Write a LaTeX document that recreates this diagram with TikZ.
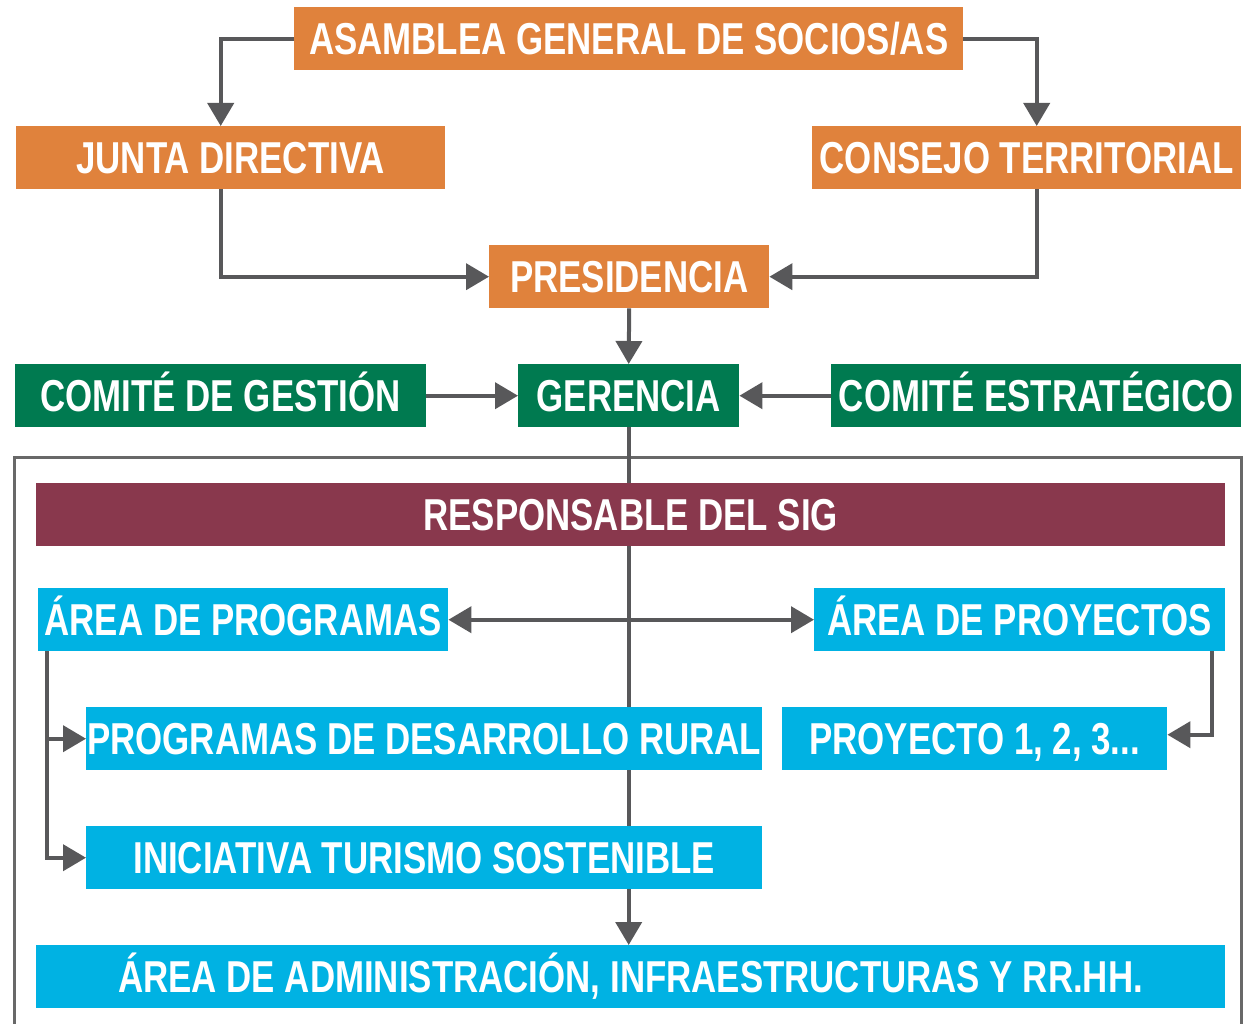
\documentclass[tikz,border=0pt]{standalone}
\usepackage{fontspec}
\setmainfont{Liberation Sans}[FakeStretch=0.78]
\usetikzlibrary{arrows.meta,positioning,backgrounds}

\definecolor{orgorange}{RGB}{224,130,60}
\definecolor{orggreen}{RGB}{0,122,80}
\definecolor{orgwine}{RGB}{137,56,77}
\definecolor{orgcyan}{RGB}{0,178,227}
\definecolor{orglink}{RGB}{88,88,90}
\definecolor{orgframe}{RGB}{104,104,104}

\begin{document}
\begin{tikzpicture}[x=1pt, y=-1pt,
        orgbox/.style={rectangle, anchor=north west, inner sep=0pt, text=white, minimum height=63pt,
            font=\fontsize{44.7}{48}\selectfont\bfseries, text height=32pt, text depth=0pt},
        link/.style={draw=orglink, line width=4pt, -{Triangle[length=23pt,width=26pt]}},
        biglink/.style={draw=orglink, line width=4pt, {Triangle[length=23pt,width=26pt]}-{Triangle[length=23pt,width=26pt]}}]
        \useasboundingbox (0,0) rectangle (1247,1024);

        % top of the chart
        \node[orgbox, fill=orgorange, minimum width=669pt] (asamblea) at (294,7) {ASAMBLEA GENERAL DE SOCIOS/AS};
        \node[orgbox, fill=orgorange, minimum width=429pt] (junta) at (16,126) {JUNTA DIRECTIVA};
        \node[orgbox, fill=orgorange, minimum width=429pt] (consejo) at (812,126) {CONSEJO TERRITORIAL};
        \node[orgbox, fill=orgorange, minimum width=280pt] (presidencia) at (489,245) {PRESIDENCIA};
        \node[orgbox, fill=orggreen, minimum width=221pt] (gerencia) at (518,364) {GERENCIA};
        \node[orgbox, fill=orggreen, minimum width=411pt] (gestion) at (15,364) {COMITÉ DE GESTIÓN};
        \node[orgbox, fill=orggreen, minimum width=410pt] (estrategico) at (831,364) {COMITÉ ESTRATÉGICO};

        % inside the frame
        \node[orgbox, fill=orgwine, minimum width=1189pt] (sig) at (36,483) {RESPONSABLE DEL SIG};
        \node[orgbox, fill=orgcyan, minimum width=410pt] (programas) at (38,588) {ÁREA DE PROGRAMAS};
        \node[orgbox, fill=orgcyan, minimum width=411pt] (proyectos) at (814,588) {ÁREA DE PROYECTOS};
        \node[orgbox, fill=orgcyan, minimum width=676pt] (desarrollo) at (86,707) {PROGRAMAS DE DESARROLLO RURAL};
        \node[orgbox, fill=orgcyan, minimum width=385pt] (proyecto) at (782,707) {PROYECTO 1, 2, 3...};
        \node[orgbox, fill=orgcyan, minimum width=676pt] (turismo) at (86,826) {INICIATIVA TURISMO SOSTENIBLE};
        \node[orgbox, fill=orgcyan, minimum width=1189pt] (admin) at (36,945) {ÁREA DE ADMINISTRACIÓN, INFRAESTRUCTURAS Y RR.HH.};

        \begin{scope}[on background layer]
            \draw[draw=orgframe, line width=3pt] (14,1024) |- (1241,457) -- (1241,1024);   % frame round the areas
            \draw[link] (gerencia.south) -- (gerencia.south |- admin.north);                  % line down through the areas
        \end{scope}

        \draw[link] (asamblea.west) -| ([xshift=-10pt]junta.north);                         % asamblea to junta
        \draw[link] (asamblea.east) -| ([xshift=10pt]consejo.north);                        % asamblea to consejo
        \draw[link] ([xshift=-10pt]junta.south) |- (presidencia.west);                      % junta to presidencia
        \draw[link] ([xshift=10pt]consejo.south) |- (presidencia.east);                     % consejo to presidencia
        \draw[link] (presidencia.south) -- (gerencia.north);                                % presidencia to gerencia
        \draw[link] (gestion.east) -- (gerencia.west);                                      % comite de gestion
        \draw[link] (estrategico.west) -- (gerencia.east);                                  % comite estrategico
        \draw[biglink] (programas.east) -- (proyectos.west);                                % between the two areas
        \draw[link] ([xshift=9pt]programas.south west) |- (desarrollo.west);                % programas to desarrollo
        \draw[link] ([xshift=9pt]programas.south west) |- (turismo.west);                   % programas to turismo
        \draw[link] ([xshift=-13pt]proyectos.south east) |- ([yshift=4pt]proyecto.east);    % proyectos to proyecto
    \end{tikzpicture}
\end{document}
